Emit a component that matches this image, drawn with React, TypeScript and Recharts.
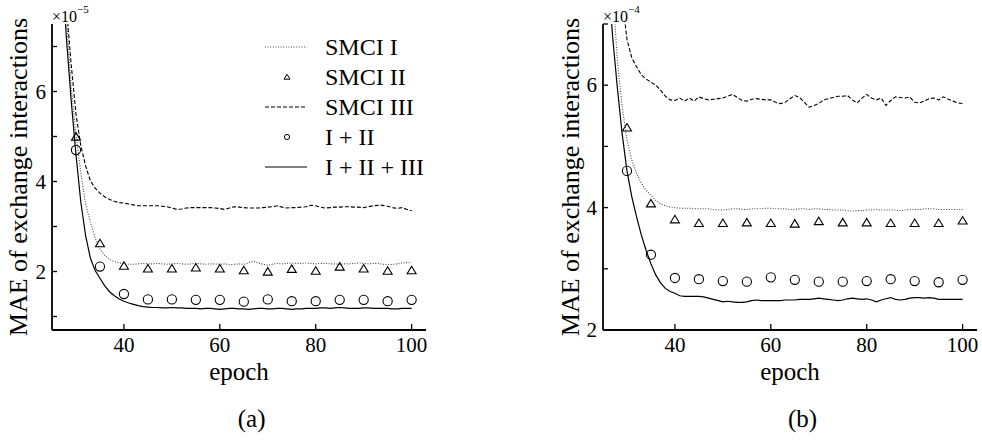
import React from 'react';
import { ComposedChart, Line, Scatter, XAxis, YAxis, Legend } from 'recharts';

const FONT = '"Liberation Serif", "Times New Roman", Times, serif';

// ---------- Panel (a) ----------
const EPOCHS_A = [27, 28, 29, 30, 31, 32, 33, 34, 35, 36, 37, 38, 39, 40,
  41, 42, 43, 44, 45, 46, 47, 48, 49, 50,
  51, 52, 53, 54, 55, 56, 57, 58, 59, 60,
  61, 62, 63, 64, 65, 66, 67, 68, 69, 70,
  71, 72, 73, 74, 75, 76, 77, 78, 79, 80,
  81, 82, 83, 84, 85, 86, 87, 88, 89, 90,
  91, 92, 93, 94, 95, 96, 97, 98, 99, 100];
const A_SMCI_I = [9.6, 7.7, 6.1, 5.05, 4.2, 3.5, 3.1, 2.75, 2.5, 2.36, 2.27, 2.22, 2.19, 2.17,
  2.16, 2.16, 2.17, 2.18, 2.17, 2.17, 2.18, 2.17, 2.16, 2.17,
  2.18, 2.17, 2.16, 2.17, 2.18, 2.17, 2.16, 2.17, 2.17, 2.16,
  2.17, 2.15, 2.16, 2.17, 2.16, 2.19, 2.23, 2.19, 2.16, 2.14,
  2.16, 2.18, 2.17, 2.18, 2.19, 2.18, 2.18, 2.19, 2.18, 2.17,
  2.18, 2.18, 2.17, 2.17, 2.16, 2.17, 2.17, 2.18, 2.19, 2.18,
  2.17, 2.18, 2.18, 2.16, 2.15, 2.16, 2.17, 2.19, 2.2, 2.19];
const A_SMCI_III = [9.8, 7.9, 6.6, 5.5, 4.8, 4.35, 4.02, 3.85, 3.74, 3.66, 3.6, 3.56, 3.53, 3.52,
  3.5, 3.48, 3.46, 3.46, 3.46, 3.46, 3.46, 3.45, 3.44, 3.41,
  3.38, 3.39, 3.41, 3.42, 3.42, 3.42, 3.42, 3.42, 3.41, 3.4,
  3.38, 3.41, 3.44, 3.43, 3.42, 3.41, 3.41, 3.41, 3.42, 3.43,
  3.44, 3.46, 3.43, 3.41, 3.42, 3.42, 3.43, 3.44, 3.47, 3.46,
  3.43, 3.41, 3.42, 3.43, 3.43, 3.44, 3.44, 3.43, 3.43, 3.42,
  3.44, 3.46, 3.47, 3.47, 3.45, 3.42, 3.4, 3.42, 3.38, 3.35];
const A_ALL = [8.9, 7.2, 5.8, 4.6, 3.55, 2.8, 2.3, 2.02, 1.85, 1.68, 1.55, 1.46, 1.39, 1.34,
  1.3, 1.27, 1.24, 1.22, 1.21, 1.2, 1.2, 1.19, 1.19, 1.2,
  1.19, 1.19, 1.18, 1.18, 1.18, 1.17, 1.18, 1.18, 1.17, 1.16,
  1.17, 1.18, 1.18, 1.17, 1.17, 1.16, 1.17, 1.18, 1.18, 1.17,
  1.17, 1.18, 1.18, 1.17, 1.16, 1.17, 1.17, 1.18, 1.18, 1.18,
  1.19, 1.19, 1.18, 1.19, 1.2, 1.19, 1.18, 1.18, 1.18, 1.19,
  1.19, 1.18, 1.18, 1.18, 1.18, 1.17, 1.17, 1.18, 1.18, 1.18];

const MARK_EPOCHS = [30, 35, 40, 45, 50, 55, 60, 65, 70, 75, 80, 85, 90, 95, 100];
const A_SMCI_II = [5.0, 2.63, 2.13, 2.07, 2.07, 2.09, 2.07, 2.03, 2.0, 2.06, 2.02, 2.11, 2.07, 2.02, 2.03];
const A_I_II = [4.7, 2.11, 1.5, 1.38, 1.38, 1.37, 1.37, 1.33, 1.38, 1.34, 1.34, 1.37, 1.37, 1.34, 1.37];

// ---------- Panel (b) ----------
const EPOCHS_B = [26, 27, 28, 29, 30, 31, 32, 33, 34, 35, 36, 37, 38, 39, 40,
  41, 42, 43, 44, 45, 46, 47, 48, 49, 50,
  51, 52, 53, 54, 55, 56, 57, 58, 59, 60,
  61, 62, 63, 64, 65, 66, 67, 68, 69, 70,
  71, 72, 73, 74, 75, 76, 77, 78, 79, 80,
  81, 82, 83, 84, 85, 86, 87, 88, 89, 90,
  91, 92, 93, 94, 95, 96, 97, 98, 99, 100];
const B_SMCI_I = [9.0, 7.6, 6.4, 5.65, 5.1, 4.78, 4.56, 4.4, 4.28, 4.2, 4.12, 4.06, 4.03, 4.01, 4.0,
  3.99, 3.99, 3.99, 3.98, 3.98, 3.98, 3.98, 3.97, 3.96, 3.96,
  3.97, 3.98, 3.98, 3.97, 3.97, 3.98, 3.98, 3.98, 3.99, 3.99,
  3.98, 3.98, 3.98, 3.97, 3.97, 3.98, 3.98, 3.97, 3.98, 3.98,
  3.97, 3.97, 3.96, 3.96, 3.96, 3.95, 3.94, 3.95, 3.95, 3.96,
  3.96, 3.97, 3.96, 3.96, 3.96, 3.96, 3.95, 3.96, 3.97, 3.97,
  3.97, 3.98, 3.98, 3.98, 3.97, 3.97, 3.97, 3.97, 3.97, 3.97];
const B_SMCI_III = [11, 9.8, 8.6, 7.4, 6.75, 6.45, 6.3, 6.17, 6.1, 6.05, 6.0, 5.92, 5.82, 5.76, 5.75,
  5.79, 5.74, 5.79, 5.74, 5.81, 5.78, 5.76, 5.77, 5.78, 5.79,
  5.82, 5.85, 5.8, 5.75, 5.74, 5.77, 5.78, 5.77, 5.76, 5.76,
  5.72, 5.7, 5.72, 5.78, 5.83, 5.8, 5.72, 5.64, 5.67, 5.7,
  5.76, 5.78, 5.8, 5.82, 5.82, 5.83, 5.76, 5.71, 5.79, 5.85,
  5.79, 5.76, 5.79, 5.67, 5.75, 5.81, 5.8, 5.79, 5.81, 5.72,
  5.71, 5.74, 5.78, 5.79, 5.76, 5.81, 5.77, 5.74, 5.71, 5.7];
const B_ALL = [7.9, 6.8, 5.95, 5.2, 4.6, 4.18, 3.85, 3.55, 3.3, 3.08, 2.9, 2.77, 2.68, 2.63, 2.6,
  2.56, 2.55, 2.55, 2.55, 2.55, 2.54, 2.52, 2.5, 2.48, 2.46,
  2.47, 2.46, 2.45, 2.45, 2.46, 2.48, 2.49, 2.48, 2.48, 2.48,
  2.48, 2.48, 2.49, 2.49, 2.49, 2.5, 2.5, 2.5, 2.51, 2.52,
  2.51, 2.5, 2.49, 2.48, 2.49, 2.51, 2.52, 2.51, 2.5, 2.51,
  2.49, 2.46, 2.49, 2.51, 2.53, 2.5, 2.49, 2.5, 2.52, 2.53,
  2.53, 2.52, 2.53, 2.52, 2.5, 2.5, 2.5, 2.5, 2.5, 2.5];
const B_SMCI_II = [5.31, 4.07, 3.81, 3.75, 3.75, 3.76, 3.75, 3.74, 3.78, 3.76, 3.76, 3.75, 3.75, 3.75, 3.79];
const B_I_II = [4.6, 3.23, 2.85, 2.83, 2.8, 2.79, 2.86, 2.82, 2.79, 2.79, 2.8, 2.83, 2.8, 2.78, 2.82];

// ---------- axes ----------
const X_DOMAIN = [25, 103];
const X_TICKS = [40, 60, 80, 100];
const Y_DOMAIN_A = [0.7, 7.5];
const Y_TICKS_A = [1, 2, 3, 4, 5, 6, 7];
const Y_LABELS_A = [2, 4, 6];
const Y_DOMAIN_B = [2, 7];
const Y_TICKS_B = [2, 3, 4, 5, 6, 7];
const Y_LABELS_B = [2, 4, 6];

const LEGEND_ITEMS = [
  { name: 'SMCI I', kind: 'dotted' },
  { name: 'SMCI II', kind: 'triangle' },
  { name: 'SMCI III', kind: 'dashed' },
  { name: 'I + II', kind: 'circle' },
  { name: 'I + II + III', kind: 'solid' },
];

const FRAME = 1.8;

const buildLines = (epochs: number[], s1: number[], s3: number[], all: number[]) =>
  epochs.map((e, i) => ({ epoch: e, s1: s1[i], s3: s3[i], all: all[i] }));
const buildMarks = (epochs: number[], vals: number[]) => epochs.map((e, i) => ({ epoch: e, v: vals[i] }));

const TriangleShape = (props: any) => {
  const { cx, cy } = props;
  if (cx == null || cy == null) return <g />;
  const d = `M${cx},${cy - 3.9} L${cx + 4.5},${cy + 3.6} L${cx - 4.5},${cy + 3.6} Z`;
  return <path d={d} fill="none" stroke="#000" strokeWidth={1.1} />;
};
const CircleShape = (props: any) => {
  const { cx, cy } = props;
  if (cx == null || cy == null) return <g />;
  return <circle cx={cx} cy={cy} r={4.6} fill="none" stroke="#000" strokeWidth={1.1} />;
};

const makeYTick = (labeled: number[]) => (props: any) => {
  const { x, y, payload } = props;
  const v = payload.value;
  return (
    <g>
      <line x1={x} x2={x + 5} y1={y} y2={y} stroke="#000" strokeWidth={1.3} />
      {labeled.includes(v) ? (
        <text x={x - 6} y={y} dy="0.34em" textAnchor="end" fontSize={21} fontFamily={FONT} fill="#000">
          {v}
        </text>
      ) : null}
    </g>
  );
};

const XTick = (props: any) => {
  const { x, y, payload } = props;
  return (
    <g>
      <line x1={x} x2={x} y1={y} y2={y - 6} stroke="#000" strokeWidth={1.3} />
      <text x={x} y={y + 22} textAnchor="middle" fontSize={21} fontFamily={FONT} fill="#000">
        {payload.value}
      </text>
    </g>
  );
};

const makeYLabel = (exp: string, labelX: number) => (props: any) => {
  const { x, y, height, width } = props.viewBox;
  return (
    <g>
      <text
        transform={`translate(${x + labelX}, ${y + height / 2}) rotate(-90)`}
        textAnchor="middle"
        dy="0.35em"
        fontSize={26}
        fontFamily={FONT}
        fill="#000"
      >
        MAE of exchange interactions
      </text>
      <text x={x + width} y={y - 2.5} fontSize={16} fontFamily={FONT} fill="#000">
        ×10
        <tspan dy={-9} fontSize={11} fill="#000">
          {exp}
        </tspan>
      </text>
    </g>
  );
};

const makeXLabel = (letter: string) => (props: any) => {
  const { x, y, width } = props.viewBox;
  return (
    <g>
      <text x={x + width / 2} y={y + 50} textAnchor="middle" fontSize={25} fontFamily={FONT} fill="#000">
        epoch
      </text>
      <text x={x + width / 2 + 12.6} y={y + 97} textAnchor="middle" fontSize={25} fontFamily={FONT} fill="#000">
        {letter}
      </text>
    </g>
  );
};

const LegendSample = ({ kind }: { kind: string }) => {
  const common = { stroke: '#000', strokeWidth: 1, fill: 'none' } as any;
  if (kind === 'dotted') return <line x1={0} x2={42} y1={15} y2={15} {...common} stroke="#444" strokeDasharray="1 1.6" />;
  if (kind === 'dashed') return <line x1={0} x2={42} y1={15} y2={15} {...common} strokeDasharray="4 2" />;
  if (kind === 'solid') return <line x1={0} x2={42} y1={15} y2={15} {...common} />;
  if (kind === 'triangle') return <path d="M22,12.2 L25,17.2 L19,17.2 Z" {...common} />;
  return <circle cx={22} cy={15} r={2.6} {...common} />;
};

const renderLegend = () => (
  <div style={{ fontFamily: FONT, fontSize: 24, color: '#000' }}>
    {LEGEND_ITEMS.map((it) => (
      <div key={it.name} style={{ display: 'flex', alignItems: 'center', height: 30 }}>
        <svg width={44} height={30} style={{ marginRight: 16, display: 'block' }}>
          <LegendSample kind={it.kind} />
        </svg>
        <span style={{ lineHeight: '30px', whiteSpace: 'nowrap' }}>{it.name}</span>
      </div>
    ))}
  </div>
);

type PanelProps = {
  left: number;
  width: number;
  yAxisWidth: number;
  marginRight: number;
  lines: any[];
  tri: any[];
  circ: any[];
  yDomain: number[];
  yTicks: number[];
  yLabels: number[];
  exp: string;
  letter: string;
  labelX: number;
  legend: boolean;
};

const Panel = (p: PanelProps) => (
  <div style={{ position: 'absolute', left: p.left, top: 0 }}>
    <ComposedChart
      width={p.width}
      height={440}
      data={p.lines}
      margin={{ top: 24, right: p.marginRight, left: 0, bottom: 0 }}
    >
      <XAxis
        dataKey="epoch"
        type="number"
        domain={X_DOMAIN}
        ticks={X_TICKS}
        interval={0}
        height={110}
        tickSize={0}
        tickMargin={0}
        tickLine={false}
        tick={XTick}
        axisLine={{ stroke: '#000', strokeWidth: FRAME }}
        label={{ content: makeXLabel(p.letter) }}
      />
      <XAxis
        xAxisId="top"
        orientation="top"
        type="number"
        domain={X_DOMAIN}
        height={0}
        tick={false}
        tickLine={false}
        axisLine={{ stroke: '#000', strokeWidth: FRAME }}
      />
      <YAxis
        type="number"
        domain={p.yDomain}
        allowDataOverflow
        ticks={p.yTicks}
        interval={0}
        width={p.yAxisWidth}
        tickSize={0}
        tickMargin={0}
        tickLine={false}
        tick={makeYTick(p.yLabels)}
        axisLine={{ stroke: '#000', strokeWidth: FRAME }}
        label={{ content: makeYLabel(p.exp, p.labelX) }}
      />
      <YAxis
        yAxisId="right"
        orientation="right"
        type="number"
        domain={p.yDomain}
        width={0}
        tick={false}
        tickLine={false}
        axisLine={{ stroke: '#000', strokeWidth: FRAME }}
      />
      {p.legend ? (
        <Legend
          layout="vertical"
          align="center"
          verticalAlign="middle"
          content={renderLegend}
          wrapperStyle={{ position: 'absolute', left: 265, top: 31.7, width: 175, margin: 0 }}
        />
      ) : null}
      <Line dataKey="s3" name="SMCI III" type="linear" stroke="#000" strokeWidth={1.1} strokeDasharray="4 2" dot={false} activeDot={false} isAnimationActive={false} />
      <Line dataKey="s1" name="SMCI I" type="linear" stroke="#444" strokeWidth={1.1} strokeDasharray="1 1.6" dot={false} activeDot={false} isAnimationActive={false} />
      <Line dataKey="all" name="I + II + III" type="linear" stroke="#000" strokeWidth={1.2} dot={false} activeDot={false} isAnimationActive={false} />
      <Scatter data={p.tri} dataKey="v" name="SMCI II" shape={TriangleShape} isAnimationActive={false} />
      <Scatter data={p.circ} dataKey="v" name="I + II" shape={CircleShape} isAnimationActive={false} />
    </ComposedChart>
  </div>
);

export default function App() {
  return (
    <div style={{ position: 'absolute', left: 0, top: 0, width: 982, height: 440, background: '#fff', overflow: 'hidden' }}>
      <Panel
        left={0}
        width={440}
        yAxisWidth={52}
        marginRight={14}
        lines={buildLines(EPOCHS_A, A_SMCI_I, A_SMCI_III, A_ALL)}
        tri={buildMarks(MARK_EPOCHS, A_SMCI_II)}
        circ={buildMarks(MARK_EPOCHS, A_I_II)}
        yDomain={Y_DOMAIN_A}
        yTicks={Y_TICKS_A}
        yLabels={Y_LABELS_A}
        exp="−5"
        letter="(a)"
        labelX={18}
        legend={true}
      />
      <Panel
        left={540}
        width={442}
        yAxisWidth={63}
        marginRight={5}
        lines={buildLines(EPOCHS_B, B_SMCI_I, B_SMCI_III, B_ALL)}
        tri={buildMarks(MARK_EPOCHS, B_SMCI_II)}
        circ={buildMarks(MARK_EPOCHS, B_I_II)}
        yDomain={Y_DOMAIN_B}
        yTicks={Y_TICKS_B}
        yLabels={Y_LABELS_B}
        exp="−4"
        letter="(b)"
        labelX={30}
        legend={false}
      />
    </div>
  );
}
